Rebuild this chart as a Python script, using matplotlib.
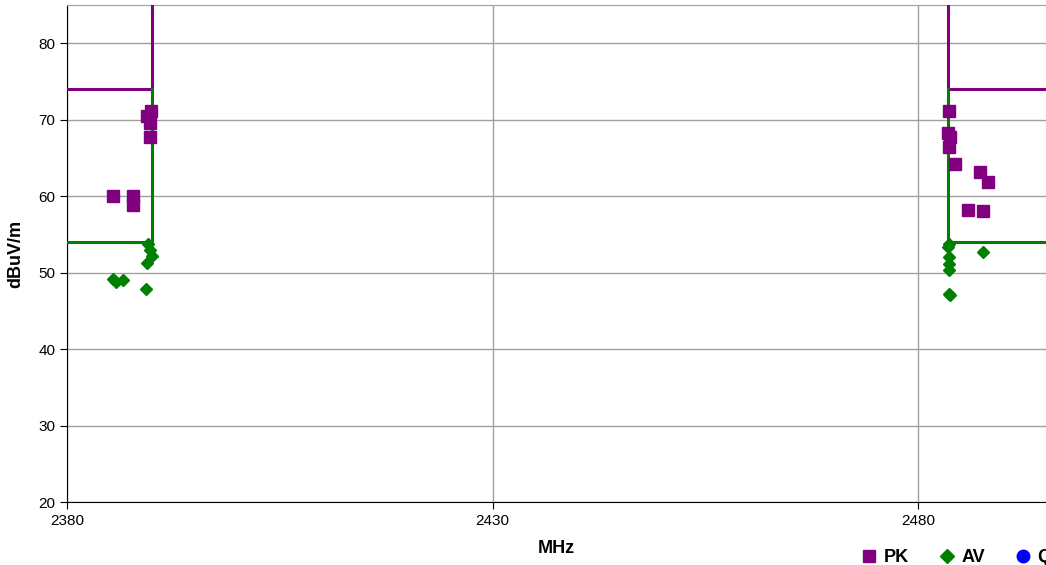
import matplotlib
matplotlib.use("Agg")
import matplotlib.pyplot as plt
from matplotlib.lines import Line2D

plt.rcParams['font.family'] = ['Liberation Sans', 'DejaVu Sans']

# peak readings (MHz, dBuV/m)
pk_freq = [2385.4, 2387.7, 2387.7, 2389.9, 2389.4, 2389.75, 2389.75,
           2483.55, 2483.5, 2483.75, 2483.65, 2484.3, 2487.3, 2488.2, 2485.85, 2487.6]
pk_level = [60.0, 60.0, 58.8, 71.1, 70.5, 69.6, 67.7,
            71.1, 68.2, 67.8, 66.4, 64.2, 63.2, 61.9, 58.2, 58.1]

# average readings
av_freq = [2385.45, 2385.75, 2386.6, 2389.3, 2389.55, 2389.75, 2389.95, 2389.45,
           2483.55, 2483.5, 2483.55, 2483.55, 2483.55, 2483.55, 2483.75, 2487.65]
av_level = [49.2, 48.8, 49.0, 47.8, 53.8, 53.0, 52.2, 51.3,
            53.7, 53.3, 52.0, 51.1, 50.3, 47.2, 47.1, 52.7]

# band-edge limits
pk_limit = 74
av_limit = 54
edge_low = 2390.0
edge_high = 2483.5
x_lo, x_hi = 2380, 2495
y_lo, y_hi = 20, 85

fig = plt.figure(figsize=(10.46, 5.65), dpi=100)
ax = fig.add_axes([67 / 1046, 1 - 502 / 565, 1 - 67 / 1046, (502 - 5) / 565])

purple = "#800080"
green = "#008000"

# limit lines: flat on the restricted side, stepping up at each band edge
ax.plot([x_lo, edge_low, edge_low], [pk_limit, pk_limit, y_hi + 5], color=purple, lw=2.2, zorder=3)
ax.plot([x_lo, edge_low, edge_low], [av_limit, av_limit, pk_limit], color=green, lw=2.2, zorder=3)
ax.plot([x_hi + 5, edge_high, edge_high], [pk_limit, pk_limit, y_hi + 5], color=purple, lw=2.2, zorder=3)
ax.plot([x_hi + 5, edge_high, edge_high], [av_limit, av_limit, pk_limit], color=green, lw=2.2, zorder=3)

ax.plot(pk_freq, pk_level, ls="none", marker="s", ms=8.5, color=purple, zorder=4)
ax.plot(av_freq, av_level, ls="none", marker="D", ms=6.5, color=green, zorder=4)

ax.set_xlim(x_lo, x_hi)
ax.set_ylim(y_lo, y_hi)
ax.set_xticks([2380, 2430, 2480])
ax.set_yticks(range(20, 81, 10))
ax.grid(True, color="#a0a0a0", lw=1)
ax.set_axisbelow(True)
ax.tick_params(labelsize=11, length=5, color="black")
ax.spines["top"].set_color("#a0a0a0")
ax.spines["right"].set_visible(False)
for s in ["left", "bottom"]:
    ax.spines[s].set_color("black")

ax.set_xlabel("MHz", fontsize=13, fontweight="bold", labelpad=9)
ax.set_ylabel("dBuV/m", fontsize=13, fontweight="bold", labelpad=10)

handles = [
    Line2D([], [], ls="none", marker="s", ms=9, color=purple),
    Line2D([], [], ls="none", marker="D", ms=7, color=green),
    Line2D([], [], ls="none", marker="o", ms=9, color="#0000ff"),
]
fig.legend(handles, ["PK", "AV", "QP"], loc="center left", bbox_to_anchor=(844 / 1046, 1 - 558 / 565),
           ncol=3, frameon=False, prop={"size": 13, "weight": "bold"},
           handletextpad=0.3, columnspacing=1.6, handlelength=1.0)

fig.savefig("out.png", dpi=100)
